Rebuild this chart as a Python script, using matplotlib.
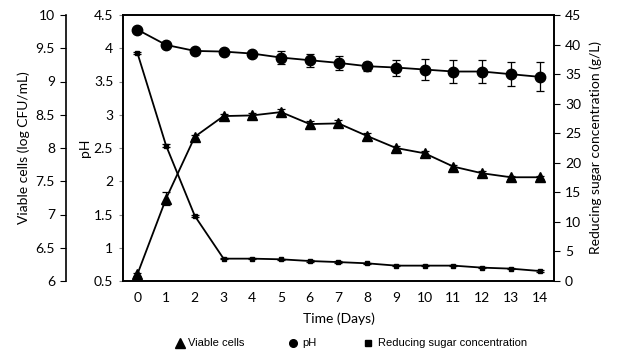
import matplotlib
matplotlib.use("Agg")
import matplotlib.pyplot as plt
from matplotlib.lines import Line2D

days = list(range(15))
viable = [6.10, 7.24, 8.17, 8.48, 8.49, 8.54, 8.36, 8.37, 8.18, 8.00, 7.92, 7.72, 7.62, 7.56, 7.56]
viable_err = [0.02, 0.10, 0.03, 0.03, 0.03, 0.04, 0.04, 0.05, 0.04, 0.03, 0.03, 0.03, 0.03, 0.02, 0.02]
ph = [4.28, 4.05, 3.96, 3.95, 3.92, 3.86, 3.82, 3.78, 3.73, 3.71, 3.68, 3.65, 3.65, 3.61, 3.57]
ph_err = [0.02, 0.02, 0.02, 0.02, 0.03, 0.10, 0.095, 0.105, 0.07, 0.12, 0.155, 0.17, 0.17, 0.18, 0.22]
sugar = [38.6, 22.9, 11.0, 3.78, 3.78, 3.67, 3.38, 3.2, 2.99, 2.6, 2.6, 2.6, 2.26, 2.09, 1.69]
sugar_err = [0.2, 0.2, 0.2, 0.1, 0.1, 0.1, 0.1, 0.1, 0.1, 0.1, 0.1, 0.1, 0.1, 0.1, 0.1]
legend_labels = ['Viable cells', 'pH', 'Reducing sugar concentration']

plt.rcParams['font.family'] = ['Lato', 'DejaVu Sans']
fs = 10

W, H = 617, 353
fig = plt.figure(figsize=(W/100, H/100), dpi=100)
ax = fig.add_axes([123/W, 1-281/H, (554-123)/W, (281-15)/H])
ax2 = ax.twinx()
ax3 = ax.twinx()

common = dict(color='black', lw=1.3, ecolor='black', elinewidth=0.9, capsize=3, capthick=0.9)
ax.errorbar(days, ph, yerr=ph_err, marker='o', ms=7.5, **common)
ax3.errorbar(days, viable, yerr=viable_err, marker='^', ms=7, **common)
ax2.errorbar(days, sugar, yerr=sugar_err, marker='s', ms=3.2, **common)

ax.set_xlim(-0.5, 14.5)
ax.set_ylim(0.5, 4.5)
ax.set_yticks([0.5 + 0.5*i for i in range(9)])
ax.set_yticklabels(['0.5', '1', '1.5', '2', '2.5', '3', '3.5', '4', '4.5'])
ax.set_xticks(days)
ax.set_xticklabels([str(d) for d in days])
ax.tick_params(axis='x', length=0, labelsize=fs, pad=8)
ax.tick_params(axis='y', direction='out', length=3, color='#888888', labelsize=fs, pad=4)
ax.set_ylabel('pH', fontsize=fs, labelpad=2)
ax.set_xlabel('Time (Days)', fontsize=fs, labelpad=6)

ax2.set_ylim(0, 45)
ax2.set_yticks(range(0, 46, 5))
ax2.tick_params(axis='y', direction='out', length=4, labelsize=fs, pad=4)
ax2.set_ylabel('Reducing sugar concentration (g/L)', fontsize=fs, labelpad=6)

ax3.set_ylim(6, 10)
ax3.set_yticks([6 + 0.5*i for i in range(9)])
ax3.set_yticklabels(['6', '6.5', '7', '7.5', '8', '8.5', '9', '9.5', '10'])
ax3.spines['left'].set_position(('axes', -57/431))
ax3.spines['left'].set_visible(True)
ax3.yaxis.set_label_position('left')
ax3.yaxis.set_ticks_position('left')
ax3.tick_params(axis='y', direction='out', length=4, labelsize=fs, pad=4)
ax3.set_ylabel('Viable cells (log CFU/mL)', fontsize=fs, labelpad=4)
for s in ['top', 'right', 'bottom']:
    ax3.spines[s].set_visible(False)

for a in (ax, ax2, ax3):
    for s in a.spines.values():
        s.set_linewidth(1.2)

# legend row, drawn at figure level
leg_y = 1 - 343/H
items = [('^', 6.5, 180, 188), ('o', 5.5, 293, 302), ('s', 5.0, 368, 378)]
for (mk, ms, mx, tx), lab in zip(items, legend_labels):
    fig.add_artist(Line2D([mx/W], [leg_y], marker=mk, ms=ms, color='black', ls='none',
                          transform=fig.transFigure))
    fig.text(tx/W, leg_y, lab, ha='left', va='center', fontsize=8,
             family='Liberation Sans')

fig.savefig('out.png', dpi=100)
